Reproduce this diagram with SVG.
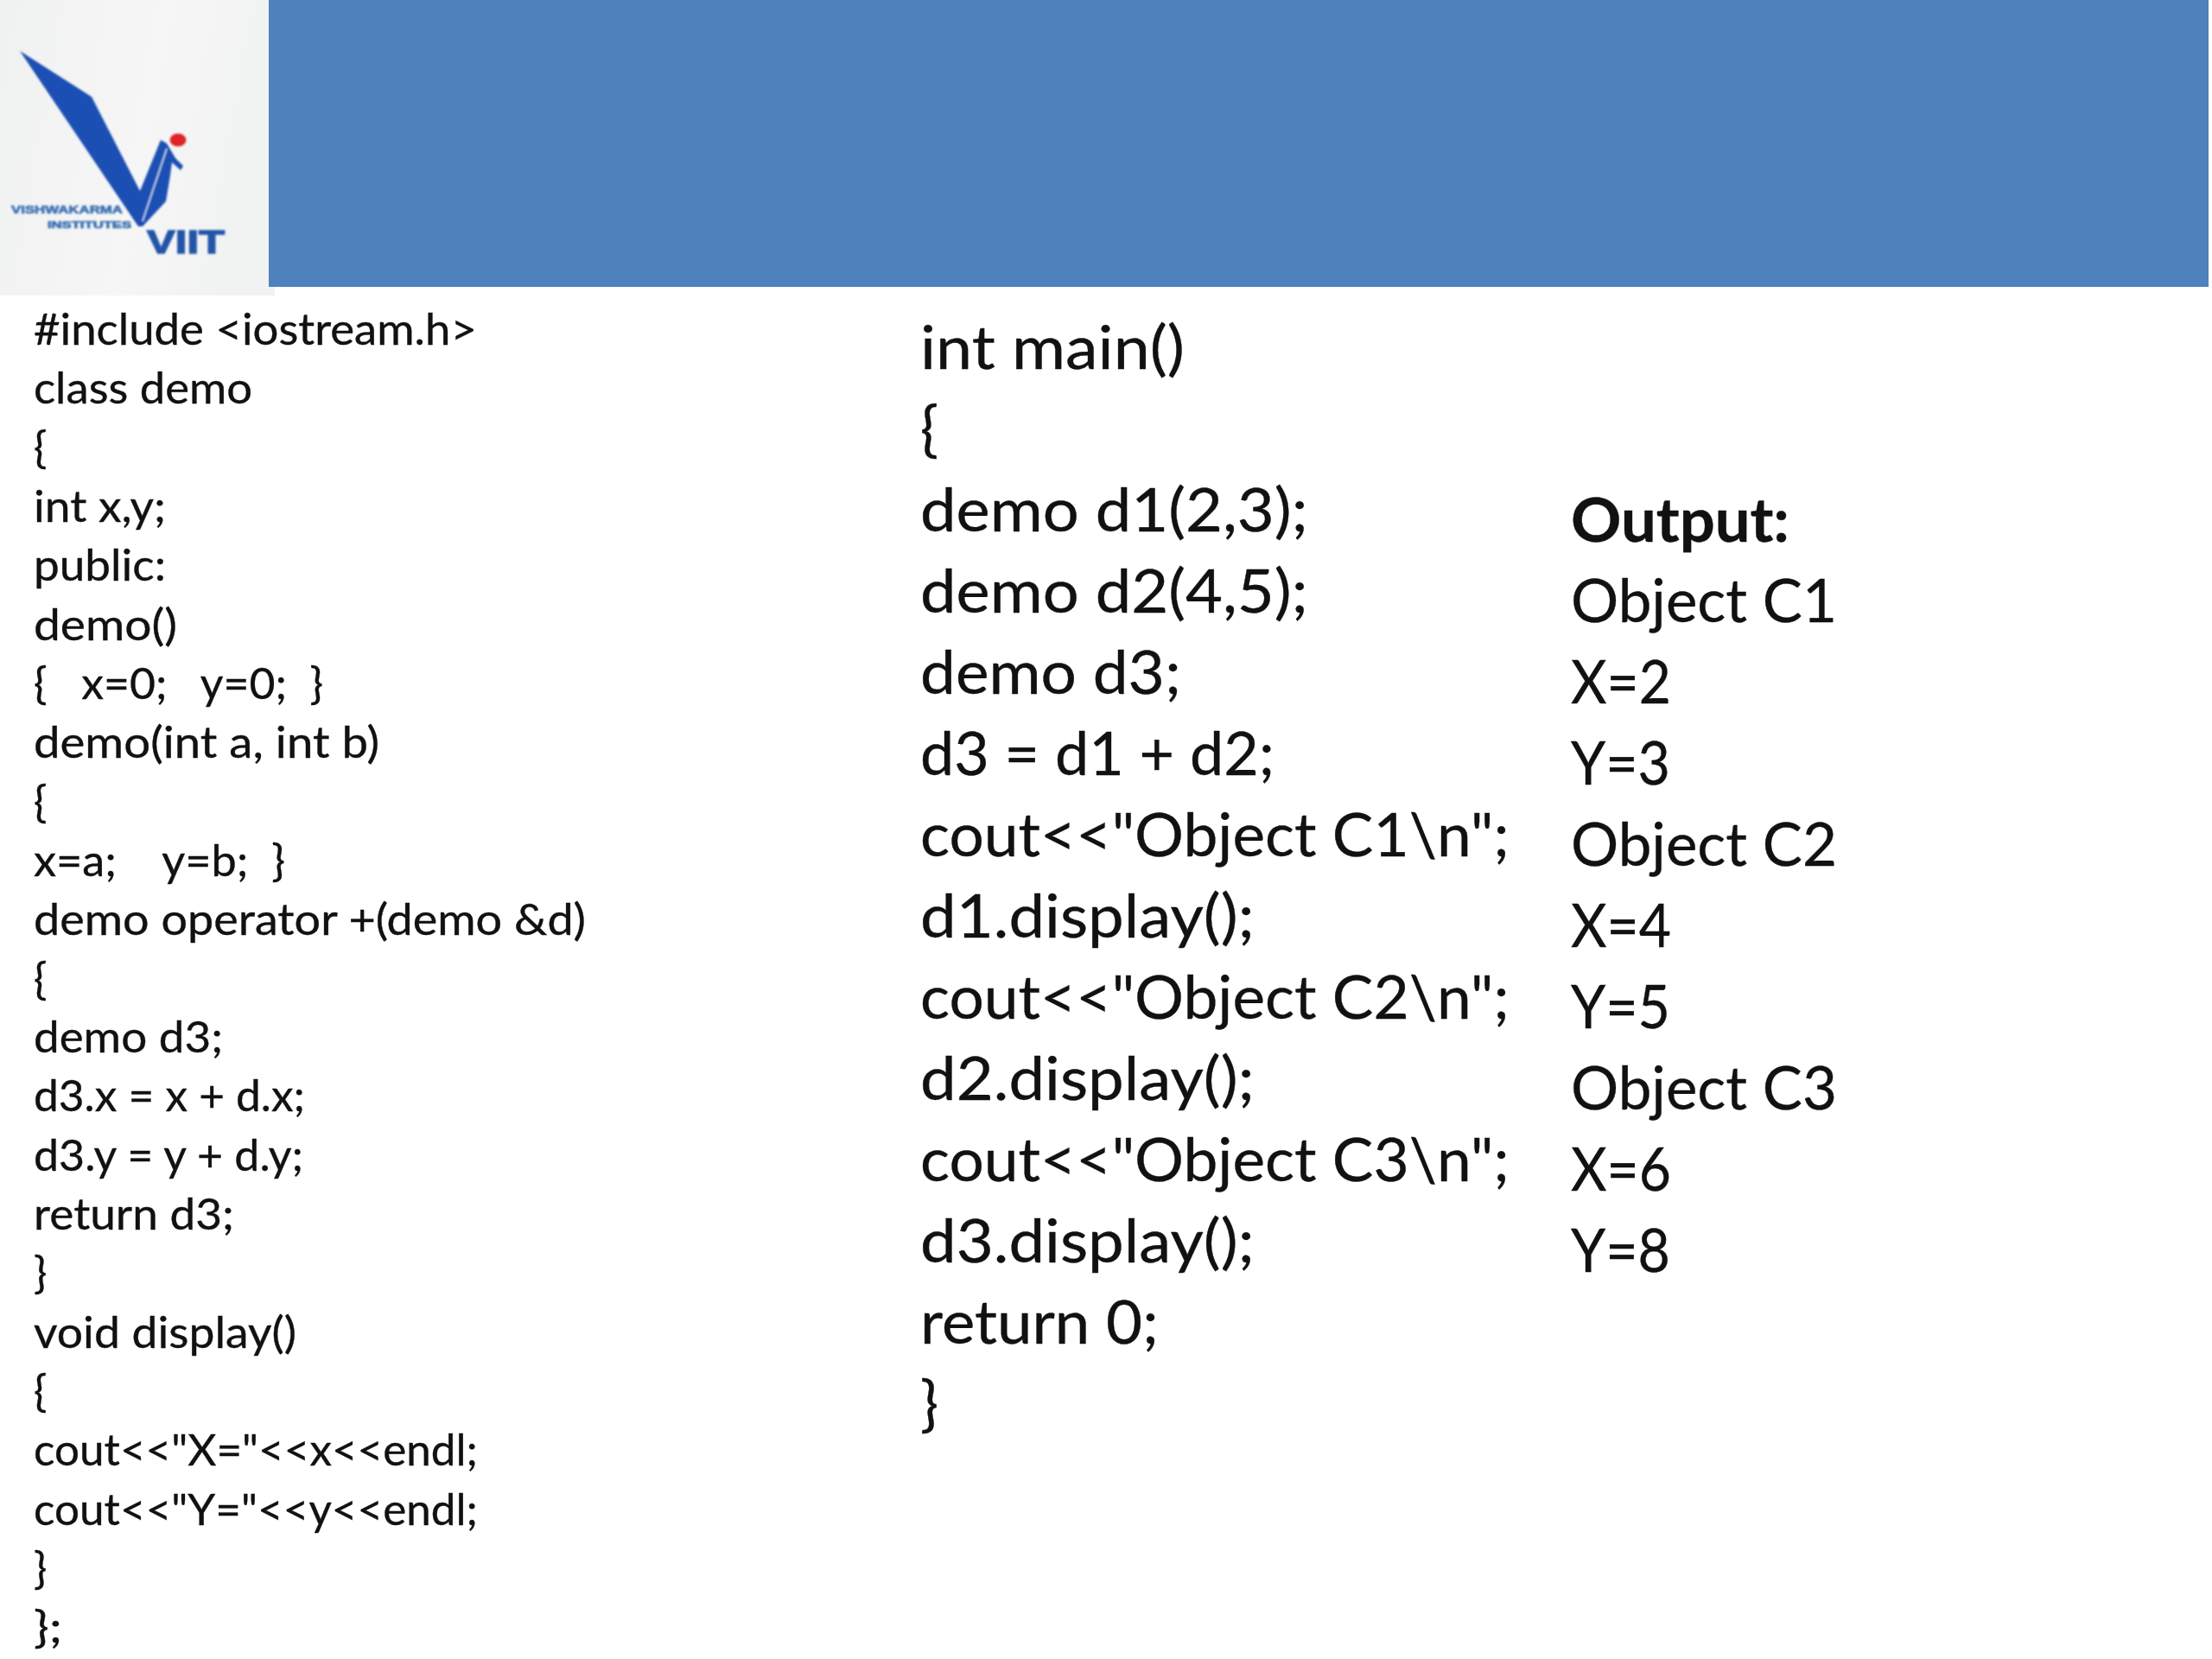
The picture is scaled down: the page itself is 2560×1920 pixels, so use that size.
<svg xmlns="http://www.w3.org/2000/svg" width="2560" height="1920" viewBox="0 0 2560 1920">
<defs>
<filter id="soft" x="-5%" y="-5%" width="110%" height="110%"><feGaussianBlur stdDeviation="1"/></filter>
<linearGradient id="paper" x1="0" y1="0" x2="1" y2="0.2"><stop offset="0" stop-color="#f0f1f1"/><stop offset="0.6" stop-color="#f6f6f6"/><stop offset="1" stop-color="#f1f2f2"/></linearGradient>
</defs>
<style>
text{font-family:"Lato","Liberation Sans",sans-serif;fill:#111;white-space:pre;stroke:#111;stroke-width:.35px}
.l{font-size:51px}
.m{font-size:70px}
.logo{font-family:"Liberation Sans",sans-serif;font-weight:700;stroke-width:.7px}
.sm{fill:#3f74b4;stroke:#3f74b4}
.big{fill:#2455a8;stroke:#2455a8;stroke-width:1.4px}
</style>
<rect width="2560" height="1920" fill="#fff"/>
<rect id="header" x="311" y="0" width="2245" height="332" fill="#4f81bd"/>
<g id="logo">
<rect x="0" y="0" width="311" height="342" fill="url(#paper)"/>
<rect x="311" y="332" width="7" height="10" fill="#f1f2f2"/>
<g filter="url(#soft)">
<polygon points="23,59 106,112 162,221 186,162 193,166 203,183 212,192 209,197 199,188 197,203 192,233 165,262 160,262" fill="#1c4fb4"/>
<line x1="193" y1="172" x2="165" y2="256" stroke="#cfe0f4" stroke-width="1.5"/>
<ellipse cx="206" cy="162" rx="9.5" ry="7.5" fill="#e0242c"/>
<text class="logo sm" x="13" y="247" font-size="12.5" textLength="129" lengthAdjust="spacingAndGlyphs">VISHWAKARMA</text>
<text class="logo sm" x="55" y="264" font-size="10.5" textLength="97" lengthAdjust="spacingAndGlyphs">INSTITUTES</text>
<text class="logo big" x="170" y="293" font-size="37" textLength="90" lengthAdjust="spacingAndGlyphs">VIIT</text>
</g>
</g>
<g id="class-code">
<text class="l" x="39" y="398.500" textLength="513" lengthAdjust="spacingAndGlyphs">#include &lt;iostream.h&gt;</text>
<text class="l" x="39" y="466.500" textLength="253" lengthAdjust="spacingAndGlyphs">class demo</text>
<text class="l" x="39" y="535.500">{</text>
<text class="l" x="39" y="603.500" textLength="153" lengthAdjust="spacingAndGlyphs">int x,y;</text>
<text class="l" x="39" y="671.500" textLength="153" lengthAdjust="spacingAndGlyphs">public:</text>
<text class="l" x="39" y="740.500" textLength="166" lengthAdjust="spacingAndGlyphs">demo()</text>
<text class="l" x="39" y="808.500" textLength="335" lengthAdjust="spacingAndGlyphs">{   x=0;   y=0;  }</text>
<text class="l" x="39" y="876.500" textLength="400" lengthAdjust="spacingAndGlyphs">demo(int a, int b)</text>
<text class="l" x="39" y="945.500">{</text>
<text class="l" x="39" y="1013.500" textLength="291" lengthAdjust="spacingAndGlyphs">x=a;    y=b;  }</text>
<text class="l" x="39" y="1081.500" textLength="639" lengthAdjust="spacingAndGlyphs">demo operator +(demo &amp;d)</text>
<text class="l" x="39" y="1150.500">{</text>
<text class="l" x="39" y="1218" textLength="219" lengthAdjust="spacingAndGlyphs">demo d3;</text>
<text class="l" x="39" y="1286" textLength="314" lengthAdjust="spacingAndGlyphs">d3.x = x + d.x;</text>
<text class="l" x="39" y="1355" textLength="312" lengthAdjust="spacingAndGlyphs">d3.y = y + d.y;</text>
<text class="l" x="39" y="1423" textLength="232" lengthAdjust="spacingAndGlyphs">return d3;</text>
<text class="l" x="39" y="1491">}</text>
<text class="l" x="39" y="1560" textLength="304" lengthAdjust="spacingAndGlyphs">void display()</text>
<text class="l" x="39" y="1628">{</text>
<text class="l" x="39" y="1696" textLength="514" lengthAdjust="spacingAndGlyphs">cout&lt;&lt;"X="&lt;&lt;x&lt;&lt;endl;</text>
<text class="l" x="39" y="1765" textLength="514" lengthAdjust="spacingAndGlyphs">cout&lt;&lt;"Y="&lt;&lt;y&lt;&lt;endl;</text>
<text class="l" x="39" y="1833">}</text>
<text class="l" x="39" y="1901" textLength="33" lengthAdjust="spacingAndGlyphs">};</text>
</g>
<g id="main-code">
<text class="m" x="1065" y="427" textLength="306" lengthAdjust="spacingAndGlyphs">int main()</text>
<text class="m" x="1065" y="521">{</text>
<text class="m" x="1065" y="615" textLength="449" lengthAdjust="spacingAndGlyphs">demo d1(2,3);</text>
<text class="m" x="1065" y="709" textLength="449" lengthAdjust="spacingAndGlyphs">demo d2(4,5);</text>
<text class="m" x="1065" y="803" textLength="302" lengthAdjust="spacingAndGlyphs">demo d3;</text>
<text class="m" x="1065" y="897" textLength="410" lengthAdjust="spacingAndGlyphs">d3 = d1 + d2;</text>
<text class="m" x="1065" y="991" textLength="682" lengthAdjust="spacingAndGlyphs">cout&lt;&lt;"Object C1\n";</text>
<text class="m" x="1065" y="1085" textLength="387" lengthAdjust="spacingAndGlyphs">d1.display();</text>
<text class="m" x="1065" y="1179" textLength="682" lengthAdjust="spacingAndGlyphs">cout&lt;&lt;"Object C2\n";</text>
<text class="m" x="1065" y="1273" textLength="387" lengthAdjust="spacingAndGlyphs">d2.display();</text>
<text class="m" x="1065" y="1367" textLength="682" lengthAdjust="spacingAndGlyphs">cout&lt;&lt;"Object C3\n";</text>
<text class="m" x="1065" y="1461" textLength="387" lengthAdjust="spacingAndGlyphs">d3.display();</text>
<text class="m" x="1065" y="1555" textLength="276" lengthAdjust="spacingAndGlyphs">return 0;</text>
<text class="m" x="1065" y="1649">}</text>
</g>
<g id="output">
<text class="m" x="1818" y="626.500" textLength="253" lengthAdjust="spacingAndGlyphs" style="font-weight:700">Output:</text>
<text class="m" x="1818" y="720" textLength="308" lengthAdjust="spacingAndGlyphs">Object C1</text>
<text class="m" x="1818" y="813.500" textLength="116" lengthAdjust="spacingAndGlyphs">X=2</text>
<text class="m" x="1818" y="907.500" textLength="115" lengthAdjust="spacingAndGlyphs">Y=3</text>
<text class="m" x="1818" y="1001.500" textLength="308" lengthAdjust="spacingAndGlyphs">Object C2</text>
<text class="m" x="1818" y="1095.500" textLength="116" lengthAdjust="spacingAndGlyphs">X=4</text>
<text class="m" x="1818" y="1189.500" textLength="115" lengthAdjust="spacingAndGlyphs">Y=5</text>
<text class="m" x="1818" y="1283.500" textLength="308" lengthAdjust="spacingAndGlyphs">Object C3</text>
<text class="m" x="1818" y="1377.500" textLength="116" lengthAdjust="spacingAndGlyphs">X=6</text>
<text class="m" x="1818" y="1471.500" textLength="115" lengthAdjust="spacingAndGlyphs">Y=8</text>
</g>
</svg>
